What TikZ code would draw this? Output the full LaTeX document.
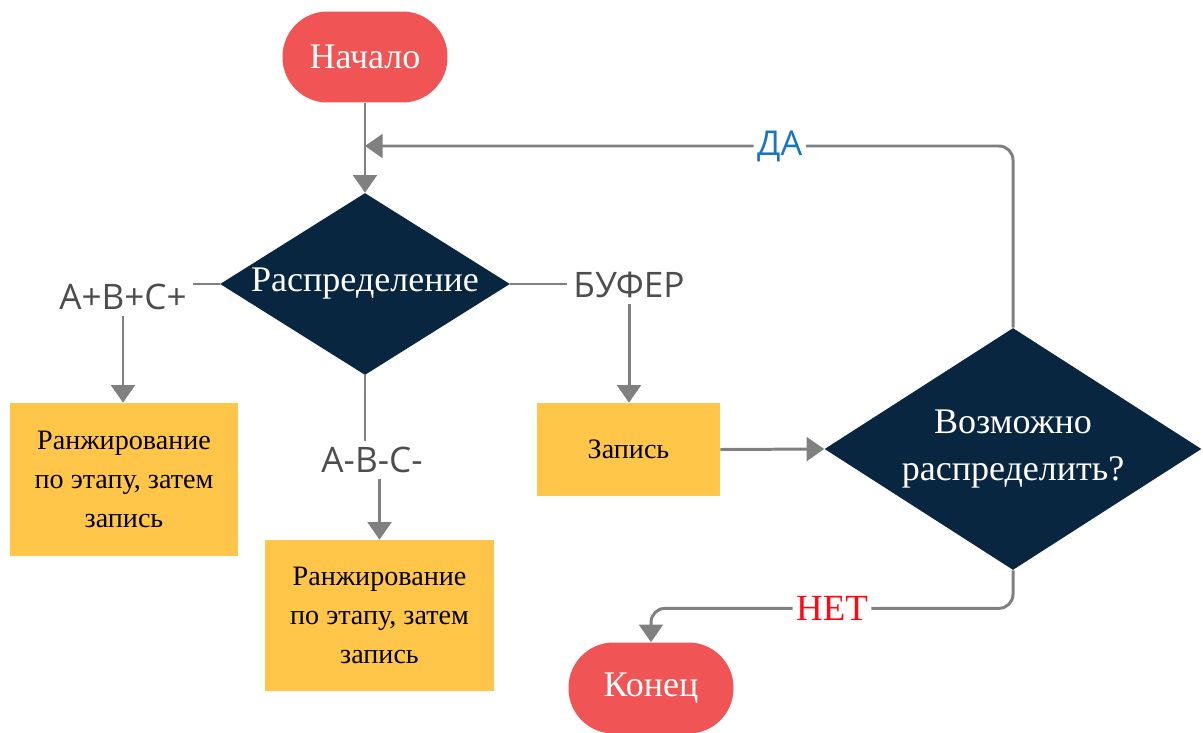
\documentclass[tikz,border=0pt]{standalone}
\usepackage{fontspec}
\setmainfont{Liberation Serif}
\setsansfont{Open Sans}
\usepackage{tikz}
\usetikzlibrary{shapes,arrows.meta,positioning}

\definecolor{termred}{HTML}{F05454}
\definecolor{decnavy}{HTML}{08263F}
\definecolor{procyellow}{HTML}{FFC64A}
\definecolor{linegray}{HTML}{808080}
\definecolor{labgray}{HTML}{4D4D4D}
\definecolor{yesblue}{HTML}{1B75BC}
\definecolor{nored}{HTML}{FF0A14}

\begin{document}
\begin{tikzpicture}[
    x=0.02cm, y=-0.02cm,
    term/.style={rectangle, rounded corners=0.9cm, fill=termred, text=white,
        minimum width=3.3cm, minimum height=1.82cm, font=\fontsize{20.5}{24}\selectfont},
    decision/.style={diamond, fill=decnavy, text=white, inner sep=0pt, align=center,
        font=\fontsize{20.5}{27}\selectfont},
    proc/.style={rectangle, fill=procyellow, align=center, font=\fontsize{16}{22}\selectfont},
    lab/.style={text=labgray, font=\sffamily\fontsize{20}{24}\selectfont},
    link/.style={draw=linegray, line width=1.7pt},
    arr/.style={link, -{Triangle[width=13.5pt,length=10pt]}}
]
\useasboundingbox (0,0) rectangle (1203,733);

\node[term] (start) at (365,57) {Начало};
\node[decision, aspect=1.6, minimum width=5.8cm, minimum height=3.64cm] (dist) at (365,284) {Распределение};
\node[lab] (plus) at (123,297) {A+B+C+};
\node[lab] (minus) at (372,460) {A-B-C-};
\node[lab] (buf) at (629,285) {БУФЕР};
\node[proc, minimum width=4.56cm, minimum height=3.06cm] (rank1) at (124,479.5) {Ранжирование\\по этапу, затем\\запись};
\node[proc, minimum width=4.58cm, minimum height=3.02cm] (rank2) at (379.5,615.5) {Ранжирование\\по этапу, затем\\запись};
\node[proc, minimum width=3.66cm, minimum height=1.86cm] (rec) at (628.5,449.5) {Запись};
\node[decision, aspect=1.56, minimum width=7.54cm, minimum height=4.84cm] (check) at (1013,449) {Возможно\\распределить?};
\node[term] (end) at (651,688) {Конец};

\draw[arr] (start) -- (dist);
\draw[link] (dist.west) -- (dist.west -| plus.east);
\draw[arr] (plus.south) -- (plus.south |- rank1.north);
\draw[link] (dist.south) -- (dist.south |- minus.north);
\draw[arr] (rank2.north |- minus.south) -- (rank2.north);
\draw[link] (dist.east) -- (dist.east -| buf.west);
\draw[arr] (buf.south) -- (buf.south |- rec.north);
\draw[arr] (rec.east) -- (check.west);
\draw[arr, rounded corners=8pt] (check.north) |- node[pos=0.68, fill=white, inner xsep=2pt, text=yesblue,
    font=\sffamily\fontsize{19.5}{22}\selectfont] {ДА} (start.south |- 0,146);
\draw[arr, rounded corners=8pt] (check.south) -- ++(0,38) -| node[pos=0.25, fill=white, inner xsep=2pt, text=nored,
    font=\fontsize{21}{24}\selectfont] {НЕТ} (end.north);
\end{tikzpicture}
\end{document}
